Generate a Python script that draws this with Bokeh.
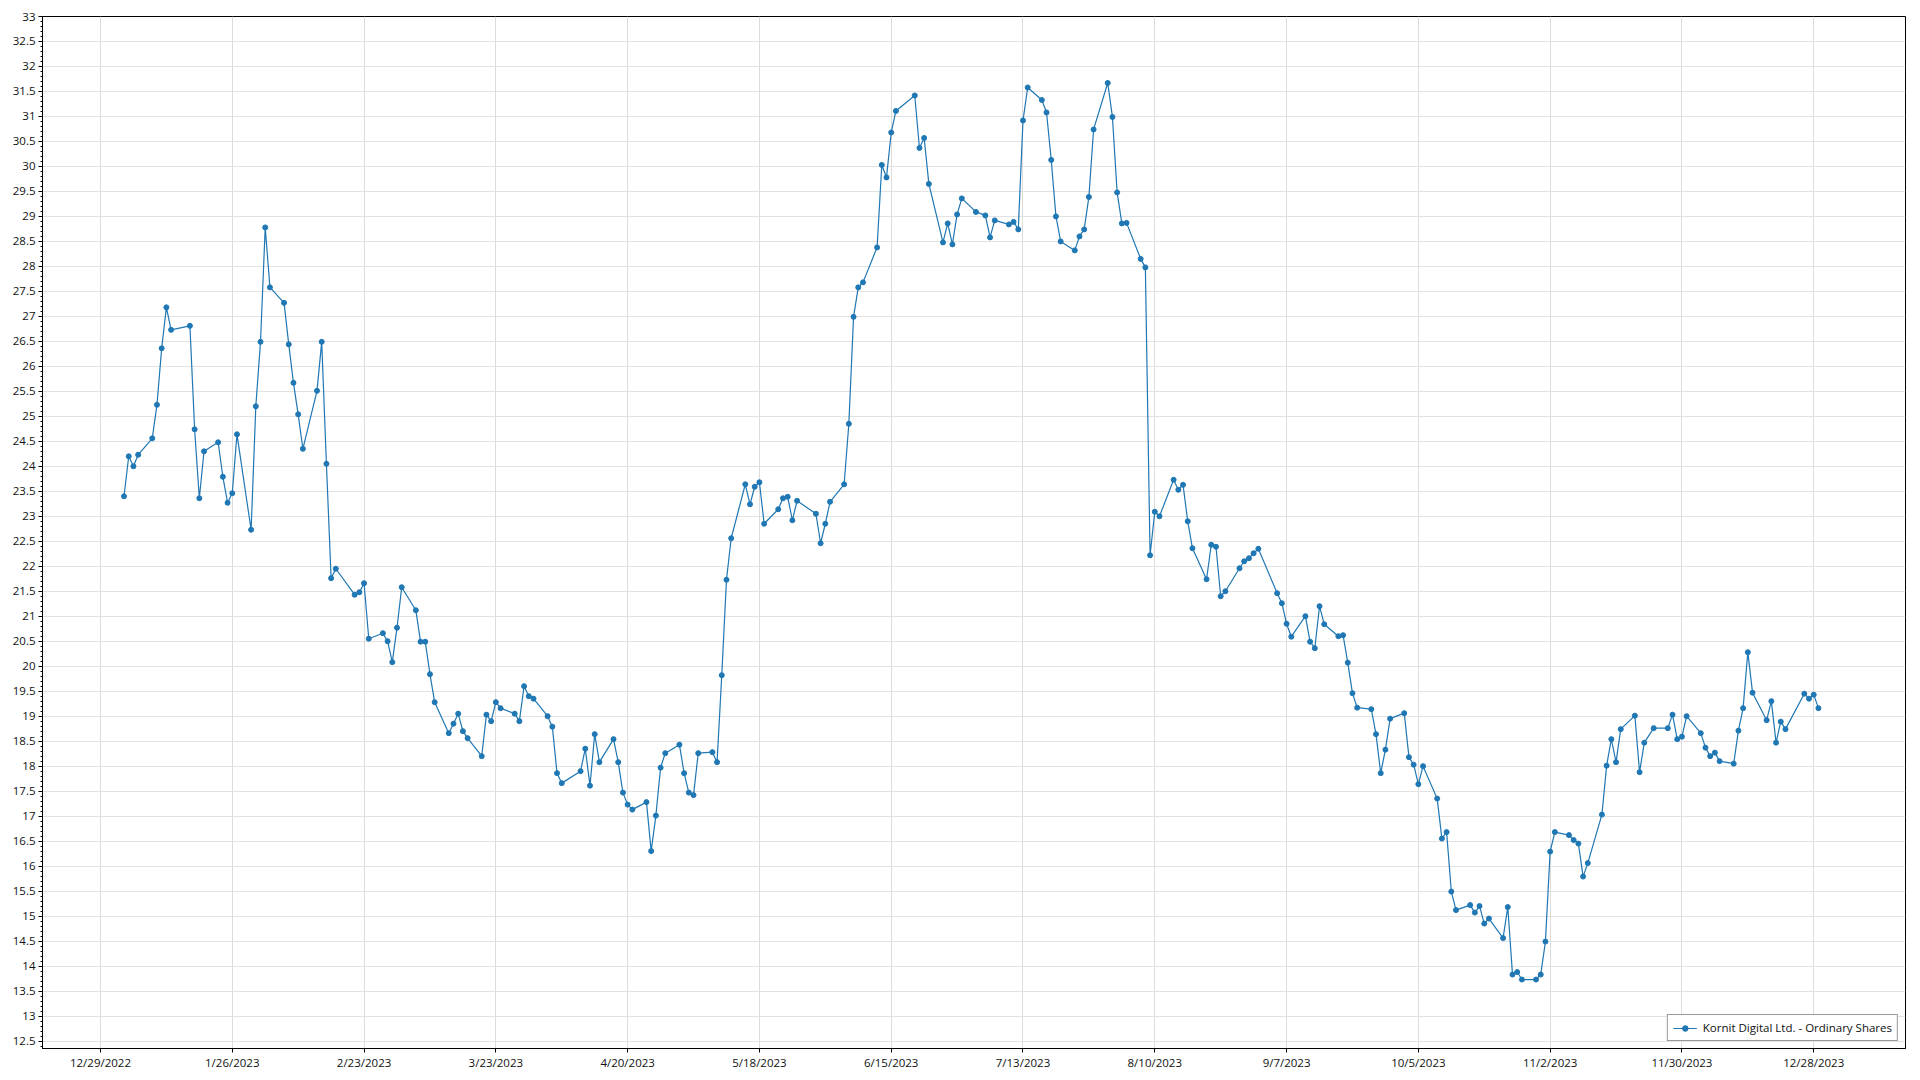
import pandas as pd
from bokeh.plotting import figure
from bokeh.models import (ColumnDataSource, Range1d, FixedTicker, SingleIntervalTicker,
                          CustomJSTickFormatter, Legend, LegendItem)
from bokeh.embed import file_html
from bokeh.resources import INLINE

SERIES_NAME = "Kornit Digital Ltd. - Ordinary Shares"

trade_dates = [
    "2023-01-03", "2023-01-04", "2023-01-05", "2023-01-06", "2023-01-09", "2023-01-10", "2023-01-11", "2023-01-12",
    "2023-01-13", "2023-01-17", "2023-01-18", "2023-01-19", "2023-01-20", "2023-01-23", "2023-01-24", "2023-01-25",
    "2023-01-26", "2023-01-27", "2023-01-30", "2023-01-31",
    "2023-02-01", "2023-02-02", "2023-02-03", "2023-02-06", "2023-02-07", "2023-02-08", "2023-02-09", "2023-02-10",
    "2023-02-13", "2023-02-14", "2023-02-15", "2023-02-16", "2023-02-17", "2023-02-21", "2023-02-22", "2023-02-23",
    "2023-02-24", "2023-02-27", "2023-02-28",
    "2023-03-01", "2023-03-02", "2023-03-03", "2023-03-06", "2023-03-07", "2023-03-08", "2023-03-09", "2023-03-10",
    "2023-03-13", "2023-03-14", "2023-03-15", "2023-03-16", "2023-03-17", "2023-03-20", "2023-03-21", "2023-03-22",
    "2023-03-23", "2023-03-24", "2023-03-27", "2023-03-28", "2023-03-29", "2023-03-30", "2023-03-31",
    "2023-04-03", "2023-04-04", "2023-04-05", "2023-04-06", "2023-04-10", "2023-04-11", "2023-04-12", "2023-04-13",
    "2023-04-14", "2023-04-17", "2023-04-18", "2023-04-19", "2023-04-20", "2023-04-21", "2023-04-24", "2023-04-25",
    "2023-04-26", "2023-04-27", "2023-04-28",
    "2023-05-01", "2023-05-02", "2023-05-03", "2023-05-04", "2023-05-05", "2023-05-08", "2023-05-09", "2023-05-10",
    "2023-05-11", "2023-05-12", "2023-05-15", "2023-05-16", "2023-05-17", "2023-05-18", "2023-05-19", "2023-05-22",
    "2023-05-23", "2023-05-24", "2023-05-25", "2023-05-26", "2023-05-30", "2023-05-31",
    "2023-06-01", "2023-06-02", "2023-06-05", "2023-06-06", "2023-06-07", "2023-06-08", "2023-06-09", "2023-06-12",
    "2023-06-13", "2023-06-14", "2023-06-15", "2023-06-16", "2023-06-20", "2023-06-21", "2023-06-22", "2023-06-23",
    "2023-06-26", "2023-06-27", "2023-06-28", "2023-06-29", "2023-06-30",
    "2023-07-03", "2023-07-05", "2023-07-06", "2023-07-07", "2023-07-10", "2023-07-11", "2023-07-12", "2023-07-13",
    "2023-07-14", "2023-07-17", "2023-07-18", "2023-07-19", "2023-07-20", "2023-07-21", "2023-07-24", "2023-07-25",
    "2023-07-26", "2023-07-27", "2023-07-28", "2023-07-31",
    "2023-08-01", "2023-08-02", "2023-08-03", "2023-08-04", "2023-08-07", "2023-08-08", "2023-08-09", "2023-08-10",
    "2023-08-11", "2023-08-14", "2023-08-15", "2023-08-16", "2023-08-17", "2023-08-18", "2023-08-21", "2023-08-22",
    "2023-08-23", "2023-08-24", "2023-08-25", "2023-08-28", "2023-08-29", "2023-08-30", "2023-08-31",
    "2023-09-01", "2023-09-05", "2023-09-06", "2023-09-07", "2023-09-08", "2023-09-11", "2023-09-12", "2023-09-13",
    "2023-09-14", "2023-09-15", "2023-09-18", "2023-09-19", "2023-09-20", "2023-09-21", "2023-09-22", "2023-09-25",
    "2023-09-26", "2023-09-27", "2023-09-28", "2023-09-29",
    "2023-10-02", "2023-10-03", "2023-10-04", "2023-10-05", "2023-10-06", "2023-10-09", "2023-10-10", "2023-10-11",
    "2023-10-12", "2023-10-13", "2023-10-16", "2023-10-17", "2023-10-18", "2023-10-19", "2023-10-20", "2023-10-23",
    "2023-10-24", "2023-10-25", "2023-10-26", "2023-10-27", "2023-10-30", "2023-10-31",
    "2023-11-01", "2023-11-02", "2023-11-03", "2023-11-06", "2023-11-07", "2023-11-08", "2023-11-09", "2023-11-10",
    "2023-11-13", "2023-11-14", "2023-11-15", "2023-11-16", "2023-11-17", "2023-11-20", "2023-11-21", "2023-11-22",
    "2023-11-24", "2023-11-27", "2023-11-28", "2023-11-29", "2023-11-30",
    "2023-12-01", "2023-12-04", "2023-12-05", "2023-12-06", "2023-12-07", "2023-12-08", "2023-12-11", "2023-12-12",
    "2023-12-13", "2023-12-14", "2023-12-15", "2023-12-18", "2023-12-19", "2023-12-20", "2023-12-21", "2023-12-22",
    "2023-12-26", "2023-12-27", "2023-12-28", "2023-12-29",
]

close_prices = [
    # Jan
    23.40, 24.20, 24.00, 24.23, 24.56, 25.23, 26.36, 27.18, 26.73, 26.81, 24.74, 23.36, 24.30, 24.48, 23.79, 23.27,
    23.46, 24.64, 22.73, 25.20,
    # Feb
    26.49, 28.78, 27.58, 27.27, 26.44, 25.67, 25.04, 24.35, 25.51, 26.49, 24.05, 21.76, 21.95, 21.43, 21.48, 21.66,
    20.55, 20.66, 20.50,
    # Mar
    20.08, 20.77, 21.58, 21.12, 20.49, 20.49, 19.84, 19.28, 18.66, 18.85, 19.05, 18.70, 18.56, 18.20, 19.03, 18.90,
    19.28, 19.16, 19.05, 18.90, 19.60, 19.40, 19.35,
    # Apr
    19.00, 18.79, 17.86, 17.66, 17.90, 18.35, 17.61, 18.64, 18.08, 18.54, 18.08, 17.47, 17.23, 17.13, 17.28, 16.30,
    17.01, 17.97, 18.26,
    # May
    18.43, 17.86, 17.47, 17.42, 18.26, 18.28, 18.08, 19.82, 21.73, 22.56, 23.64, 23.24, 23.59, 23.68, 22.85, 23.14,
    23.36, 23.39, 22.92, 23.31, 23.05, 22.46,
    # Jun
    22.85, 23.29, 23.64, 24.85, 26.99, 27.58, 27.68, 28.38, 30.03, 29.78, 30.68, 31.11, 31.42, 30.37, 30.57, 29.65,
    28.48, 28.86, 28.44, 29.04, 29.36,
    # Jul
    29.09, 29.02, 28.58, 28.92, 28.84, 28.89, 28.74, 30.92, 31.58, 31.33, 31.08, 30.13, 29.00, 28.50, 28.32, 28.60,
    28.74, 29.39, 30.74, 31.67,
    # Aug
    30.99, 29.48, 28.86, 28.87, 28.15, 27.98, 22.22, 23.09, 23.00, 23.73, 23.53, 23.63, 22.90, 22.36, 21.74, 22.43,
    22.39, 21.40, 21.50, 21.96, 22.10, 22.16, 22.26,
    # Sep
    22.35, 21.46, 21.26, 20.85, 20.59, 21.00, 20.49, 20.36, 21.20, 20.84, 20.60, 20.62, 20.07, 19.46, 19.17, 19.14,
    18.64, 17.86, 18.33, 18.95,
    # Oct
    19.06, 18.18, 18.03, 17.64, 18.00, 17.35, 16.55, 16.68, 15.49, 15.12, 15.22, 15.07, 15.20, 14.85, 14.95, 14.56,
    15.18, 13.83, 13.88, 13.73, 13.73, 13.83,
    # Nov
    14.49, 16.29, 16.68, 16.62, 16.52, 16.45, 15.79, 16.06, 17.03, 18.01, 18.54, 18.08, 18.74, 19.01, 17.88, 18.47,
    18.76, 18.76, 19.03, 18.54, 18.59,
    # Dec
    19.00, 18.66, 18.37, 18.20, 18.27, 18.10, 18.05, 18.71, 19.16, 20.28, 19.47, 18.92, 19.30, 18.47, 18.89, 18.74,
    19.45, 19.35, 19.43, 19.16,
]

x_tick_dates = ["2022-12-29", "2023-01-26", "2023-02-23", "2023-03-23", "2023-04-20", "2023-05-18", "2023-06-15",
                "2023-07-13", "2023-08-10", "2023-09-07", "2023-10-05", "2023-11-02", "2023-11-30", "2023-12-28"]

LINE_COLOR = "#1f77b4"
FONT = "Open Sans"


def ms(ts):
    return pd.Timestamp(ts).value / 1e6


x_start = ms("2022-12-29") - 12.32 * 86400000
x_end = ms("2023-12-28") + 19.5 * 86400000

source = ColumnDataSource(data=dict(date=pd.to_datetime(trade_dates), close=close_prices))

p = figure(width=1912, height=1072, x_axis_type="datetime",
           x_range=Range1d(x_start, x_end), y_range=Range1d(12.35, 33),
           output_backend="svg", toolbar_location=None,
           min_border_left=42, min_border_right=7, min_border_top=16, min_border_bottom=21)

p.background_fill_color = "white"
p.border_fill_color = "white"
p.outline_line_color = "black"
p.outline_line_width = 1
p.outline_line_alpha = 1

# x axis
p.xaxis.ticker = FixedTicker(ticks=[ms(d) for d in x_tick_dates])
p.xaxis.formatter = CustomJSTickFormatter(code="""
const d = new Date(tick);
return (d.getUTCMonth() + 1) + '/' + d.getUTCDate() + '/' + d.getUTCFullYear();
""")
p.xaxis.major_tick_out = 4
p.xaxis.major_tick_in = 0
p.xaxis.minor_tick_out = 0
p.xaxis.minor_tick_in = 0
p.xaxis.major_label_standoff = 2

# y axis
p.yaxis.ticker = SingleIntervalTicker(interval=0.5, num_minor_ticks=5)
p.yaxis.formatter = CustomJSTickFormatter(code="return String(Math.round(tick * 10) / 10);")
p.yaxis.major_tick_out = 4
p.yaxis.major_tick_in = 0
p.yaxis.minor_tick_out = 2
p.yaxis.minor_tick_in = 0
p.yaxis.major_label_standoff = 3

for ax in (p.xaxis, p.yaxis):
    ax.axis_line_color = "black"
    ax.axis_line_width = 1
    ax.major_tick_line_color = "black"
    ax.minor_tick_line_color = "black"
    ax.major_label_text_font = FONT
    ax.major_label_text_font_size = "11.5px"
    ax.major_label_text_color = "#111111"

p.xgrid.grid_line_color = "#dcdcdc"
p.ygrid.grid_line_color = "#e2e2e2"
p.xgrid.grid_line_width = 1
p.ygrid.grid_line_width = 1

r_line = p.line(x="date", y="close", source=source, line_color=LINE_COLOR, line_width=1.2)
r_pts = p.scatter(x="date", y="close", source=source, size=5, fill_color=LINE_COLOR, line_color=LINE_COLOR)

legend = Legend(items=[LegendItem(label=SERIES_NAME, renderers=[r_line, r_pts])],
                location="bottom_right")
legend.margin = 7
legend.padding = 5
legend.spacing = 0
legend.glyph_width = 24
legend.glyph_height = 14
legend.label_height = 14
legend.label_standoff = 6
legend.label_text_font = FONT
legend.label_text_font_size = "11.5px"
legend.label_text_color = "#111111"
legend.border_line_color = "#333333"
legend.border_line_width = 1.6
legend.background_fill_color = "white"
legend.background_fill_alpha = 1
p.add_layout(legend)

open("out.html", "w").write(file_html(p, INLINE))
